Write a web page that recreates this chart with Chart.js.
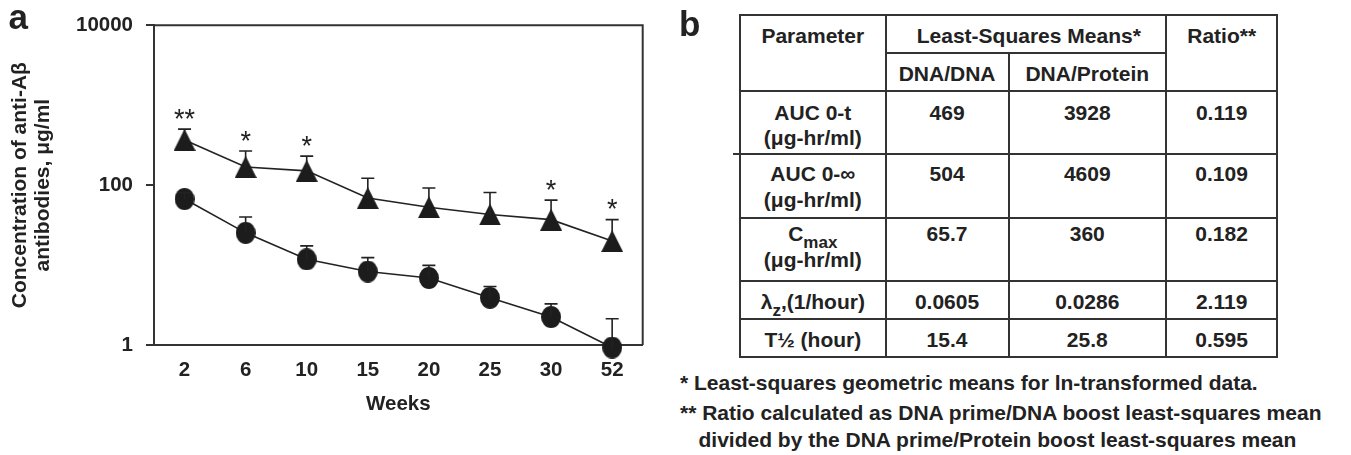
<!DOCTYPE html>
<html><head><meta charset="utf-8">
<script src="https://cdn.jsdelivr.net/npm/chart.js@4.4.1/dist/chart.umd.min.js"></script>
<style>
html,body{margin:0;padding:0;background:#fff;}
body{width:1351px;height:455px;position:relative;overflow:hidden;font-family:'Liberation Sans',Arial,sans-serif;font-weight:bold;color:#222;}
#chartBox{position:absolute;left:0;top:0;width:680px;height:455px;}
.t{position:absolute;white-space:nowrap;line-height:1;transform:translate(-50%,-50%);font-size:21px;}
.ln{position:absolute;background:#333;}
.fn{position:absolute;white-space:nowrap;line-height:1;font-size:21px;transform:translateY(-50%);}
.panel{position:absolute;font-size:35px;line-height:1;}
.sub{font-size:17px;position:relative;top:7px;}
</style></head>
<body>
<div id="chartBox"><canvas id="c" width="680" height="455"></canvas></div>
<div class="panel" style="left:8.6px;top:-1.3px;">a</div>
<div class="panel" style="left:679px;top:6.4px;">b</div>
<div id="tbl"></div>
<script>
// ---------- Panel a data ----------
const weeks = ['2', '6', '10', '15', '20', '25', '30', '52'];
const dnaDnaMean = [67, 25.3, 11.8, 8.3, 6.9, 3.9, 2.24, 0.93];
const dnaDnaUpper = [80, 40, 17.4, 12.4, 9.9, 5.4, 3.27, 2.13];
const dnaProteinMean = [368, 169, 151, 69, 53, 43, 37, 20];
const dnaProteinUpper = [503, 267, 231, 122, 92, 81, 65, 37];
const significance = ['**', '*', '*', '', '', '', '*', '*'];
const yTickValues = [1, 100, 10000];
const yTitle = ['Concentration of anti-A\u03B2', 'antibodies, \u03BCg/ml'];
const xTitle = 'Weeks';

// ---------- Panel b data ----------
const headerParameter = 'Parameter';
const headerMeans = 'Least-Squares Means*';
const headerGroups = ['DNA/DNA', 'DNA/Protein'];
const headerRatio = 'Ratio**';
const parameterLines = [
  ['AUC 0-t', '(\u03BCg-hr/ml)'],
  ['AUC 0-\u221E', '(\u03BCg-hr/ml)'],
  ['C<span class="sub">max</span>', '(\u03BCg-hr/ml)'],
  ['\u03BB<span class="sub">z</span>,(1/hour)'],
  ['T\u00BD (hour)']
];
const dnaDnaLSM = ['469', '504', '65.7', '0.0605', '15.4'];
const dnaProteinLSM = ['3928', '4609', '360', '0.0286', '25.8'];
const ratioValues = ['0.119', '0.109', '0.182', '2.119', '0.595'];
const footnotes = [
  '* Least-squares geometric means for ln-transformed data.',
  '** Ratio calculated as DNA prime/DNA boost least-squares mean',
  'divided by the DNA prime/Protein boost least-squares mean'
];

// ---------- marker images ----------
function makeTriangle(w, h, color) {
  const c = document.createElement('canvas'); c.width = w; c.height = h;
  const g = c.getContext('2d'); g.fillStyle = color;
  g.beginPath(); g.moveTo(w / 2, 0); g.lineTo(w, h); g.lineTo(0, h); g.closePath(); g.fill();
  return c;
}
function makeEllipse(w, h, color) {
  const c = document.createElement('canvas'); c.width = w; c.height = h;
  const g = c.getContext('2d'); g.fillStyle = color;
  g.beginPath(); g.ellipse(w / 2, h / 2, w / 2, h / 2, 0, 0, Math.PI * 2); g.fill();
  return c;
}
const triImg = makeTriangle(22, 22, '#1c1c1c');
const cirImg = makeEllipse(20, 22, '#1c1c1c');

const FONT = "'Liberation Sans', Arial, sans-serif";
Chart.defaults.font.family = FONT;
Chart.defaults.color = '#222';

const uppers = [dnaDnaUpper, dnaProteinUpper];

const errorBars = {
  id: 'errorBars',
  afterDatasetsDraw(chart) {
    const ctx = chart.ctx, ys = chart.scales.y;
    uppers.forEach((arr, di) => {
      const meta = chart.getDatasetMeta(di);
      arr.forEach((u, i) => {
        const p = meta.data[i];
        const yt = ys.getPixelForValue(u);
        ctx.save();
        ctx.strokeStyle = '#222'; ctx.lineWidth = 1.6;
        ctx.beginPath();
        ctx.moveTo(p.x, p.y); ctx.lineTo(p.x, yt);
        ctx.moveTo(p.x - 6.5, yt); ctx.lineTo(p.x + 6.5, yt);
        ctx.stroke();
        ctx.restore();
      });
    });
    // significance marks above DNA/Protein error bars
    const meta = chart.getDatasetMeta(1);
    ctx.save();
    ctx.font = 'normal 27px ' + FONT;
    ctx.fillStyle = '#222';
    ctx.textAlign = 'center';
    ctx.textBaseline = 'alphabetic';
    const m = ctx.measureText('*');
    const off = (m.actualBoundingBoxAscent - m.actualBoundingBoxDescent) / 2;
    significance.forEach((s, i) => {
      if (!s) return;
      const p = meta.data[i];
      const yt = ys.getPixelForValue(dnaProteinUpper[i]);
      ctx.fillText(s, p.x, yt - 15.5 + off);
    });
    ctx.restore();
  },
  afterDraw(chart) {
    const {ctx, chartArea: a} = chart;
    ctx.save();
    ctx.strokeStyle = '#333'; ctx.lineWidth = 2;
    ctx.beginPath();
    ctx.moveTo(a.left, a.top); ctx.lineTo(a.right, a.top); ctx.lineTo(a.right, a.bottom);
    ctx.stroke();
    ctx.restore();
  }
};

new Chart(document.getElementById('c'), {
  type: 'line',
  data: {
    labels: weeks,
    datasets: [
      { label: 'DNA/DNA', data: dnaDnaMean, borderColor: '#222', borderWidth: 1.6,
        pointStyle: cirImg, pointRadius: 10, clip: false, fill: false, tension: 0 },
      { label: 'DNA/Protein', data: dnaProteinMean, borderColor: '#222', borderWidth: 1.6,
        pointStyle: triImg, pointRadius: 11, clip: false, fill: false, tension: 0 }
    ]
  },
  options: {
    responsive: false, animation: false, devicePixelRatio: 1,
    layout: { padding: { left: 0, right: 37.3, top: 19, bottom: 0 } },
    plugins: { legend: { display: false }, tooltip: { enabled: false } },
    scales: {
      x: {
        type: 'category', offset: true,
        grid: { drawOnChartArea: false, drawTicks: false },
        border: { display: true, color: '#333', width: 2 },
        ticks: { font: { size: 20.5, weight: 'bold' }, color: '#222', padding: 13, maxRotation: 0 },
        title: { display: true, text: xTitle, font: { size: 20.5, weight: 'bold' }, color: '#222',
                 padding: { top: 0, bottom: 38 } },
        afterFit: s => { s.height = 110; }
      },
      y: {
        type: 'logarithmic', min: 1, max: 10000,
        afterBuildTicks: s => { s.ticks = yTickValues.map(v => ({ value: v, major: true })); },
        grid: { drawOnChartArea: false, drawTicks: true, tickLength: 8, color: '#333', lineWidth: 2 },
        border: { display: true, color: '#333', width: 2 },
        ticks: { font: { size: 20.5, weight: 'bold' }, color: '#222', padding: 13,
                 callback: v => String(v) },
        title: { display: true, text: yTitle, font: { size: 21, weight: 'bold', lineHeight: 1.1 },
                 color: '#222', padding: { top: 8.5, bottom: 0 } },
        afterFit: s => { s.width = 154; }
      }
    }
  },
  plugins: [errorBars]
});

// ---------- Panel b table ----------
const colX = [740, 885.6, 1008.5, 1166, 1277.3];
const rowY = [15, 53.3, 90.7, 154.3, 217.7, 281, 319.3, 357.3];
const lineW = 2;
const tbl = document.getElementById('tbl');
function hLine(x1, x2, y) {
  const d = document.createElement('div'); d.className = 'ln';
  d.style.left = (x1 - lineW / 2) + 'px'; d.style.top = (y - lineW / 2) + 'px';
  d.style.width = (x2 - x1 + lineW) + 'px'; d.style.height = lineW + 'px';
  tbl.appendChild(d);
}
function vLine(x, y1, y2) {
  const d = document.createElement('div'); d.className = 'ln';
  d.style.left = (x - lineW / 2) + 'px'; d.style.top = (y1 - lineW / 2) + 'px';
  d.style.width = lineW + 'px'; d.style.height = (y2 - y1 + lineW) + 'px';
  tbl.appendChild(d);
}
function text(html, cx, cy) {
  const d = document.createElement('div'); d.className = 't';
  d.style.left = cx + 'px'; d.style.top = cy + 'px'; d.innerHTML = html;
  tbl.appendChild(d);
}
const L = colX[0], R = colX[4], T = rowY[0], B = rowY[rowY.length - 1];
hLine(L, R, T); hLine(L, R, B); vLine(L, T, B); vLine(R, T, B);
vLine(colX[1], T, B); vLine(colX[3], T, B); vLine(colX[2], rowY[1], B);
hLine(colX[1], colX[3], rowY[1]);
for (let i = 2; i < rowY.length - 1; i++) hLine(L, R, rowY[i]);
hLine(733.5, L, rowY[3]);

const cc = [0, 1, 2, 3].map(i => (colX[i] + colX[i + 1]) / 2);
text(headerParameter, cc[0], 35);
text(headerMeans, (colX[1] + colX[3]) / 2 + 3, 35);
text(headerRatio, cc[3], 35);
text(headerGroups[0], cc[1], 72.7);
text(headerGroups[1], cc[2], 72.7);

const firstLineY = [111.7, 172.7, 233.3, 301, 339];
const secondLineY = [136.7, 199.3, 259.3];
parameterLines.forEach((lines, r) => {
  text(lines[0], cc[0], firstLineY[r]);
  if (lines[1]) text(lines[1], cc[0], secondLineY[r]);
  text(dnaDnaLSM[r], cc[1], firstLineY[r]);
  text(dnaProteinLSM[r], cc[2], firstLineY[r]);
  text(ratioValues[r], cc[3], firstLineY[r]);
});

const fnPos = [[680, 381.7], [680, 411.7], [698.5, 439.3]];
footnotes.forEach((f, i) => {
  const d = document.createElement('div'); d.className = 'fn';
  d.style.left = fnPos[i][0] + 'px'; d.style.top = fnPos[i][1] + 'px';
  d.textContent = f;
  document.body.appendChild(d);
});
</script>
</body></html>
